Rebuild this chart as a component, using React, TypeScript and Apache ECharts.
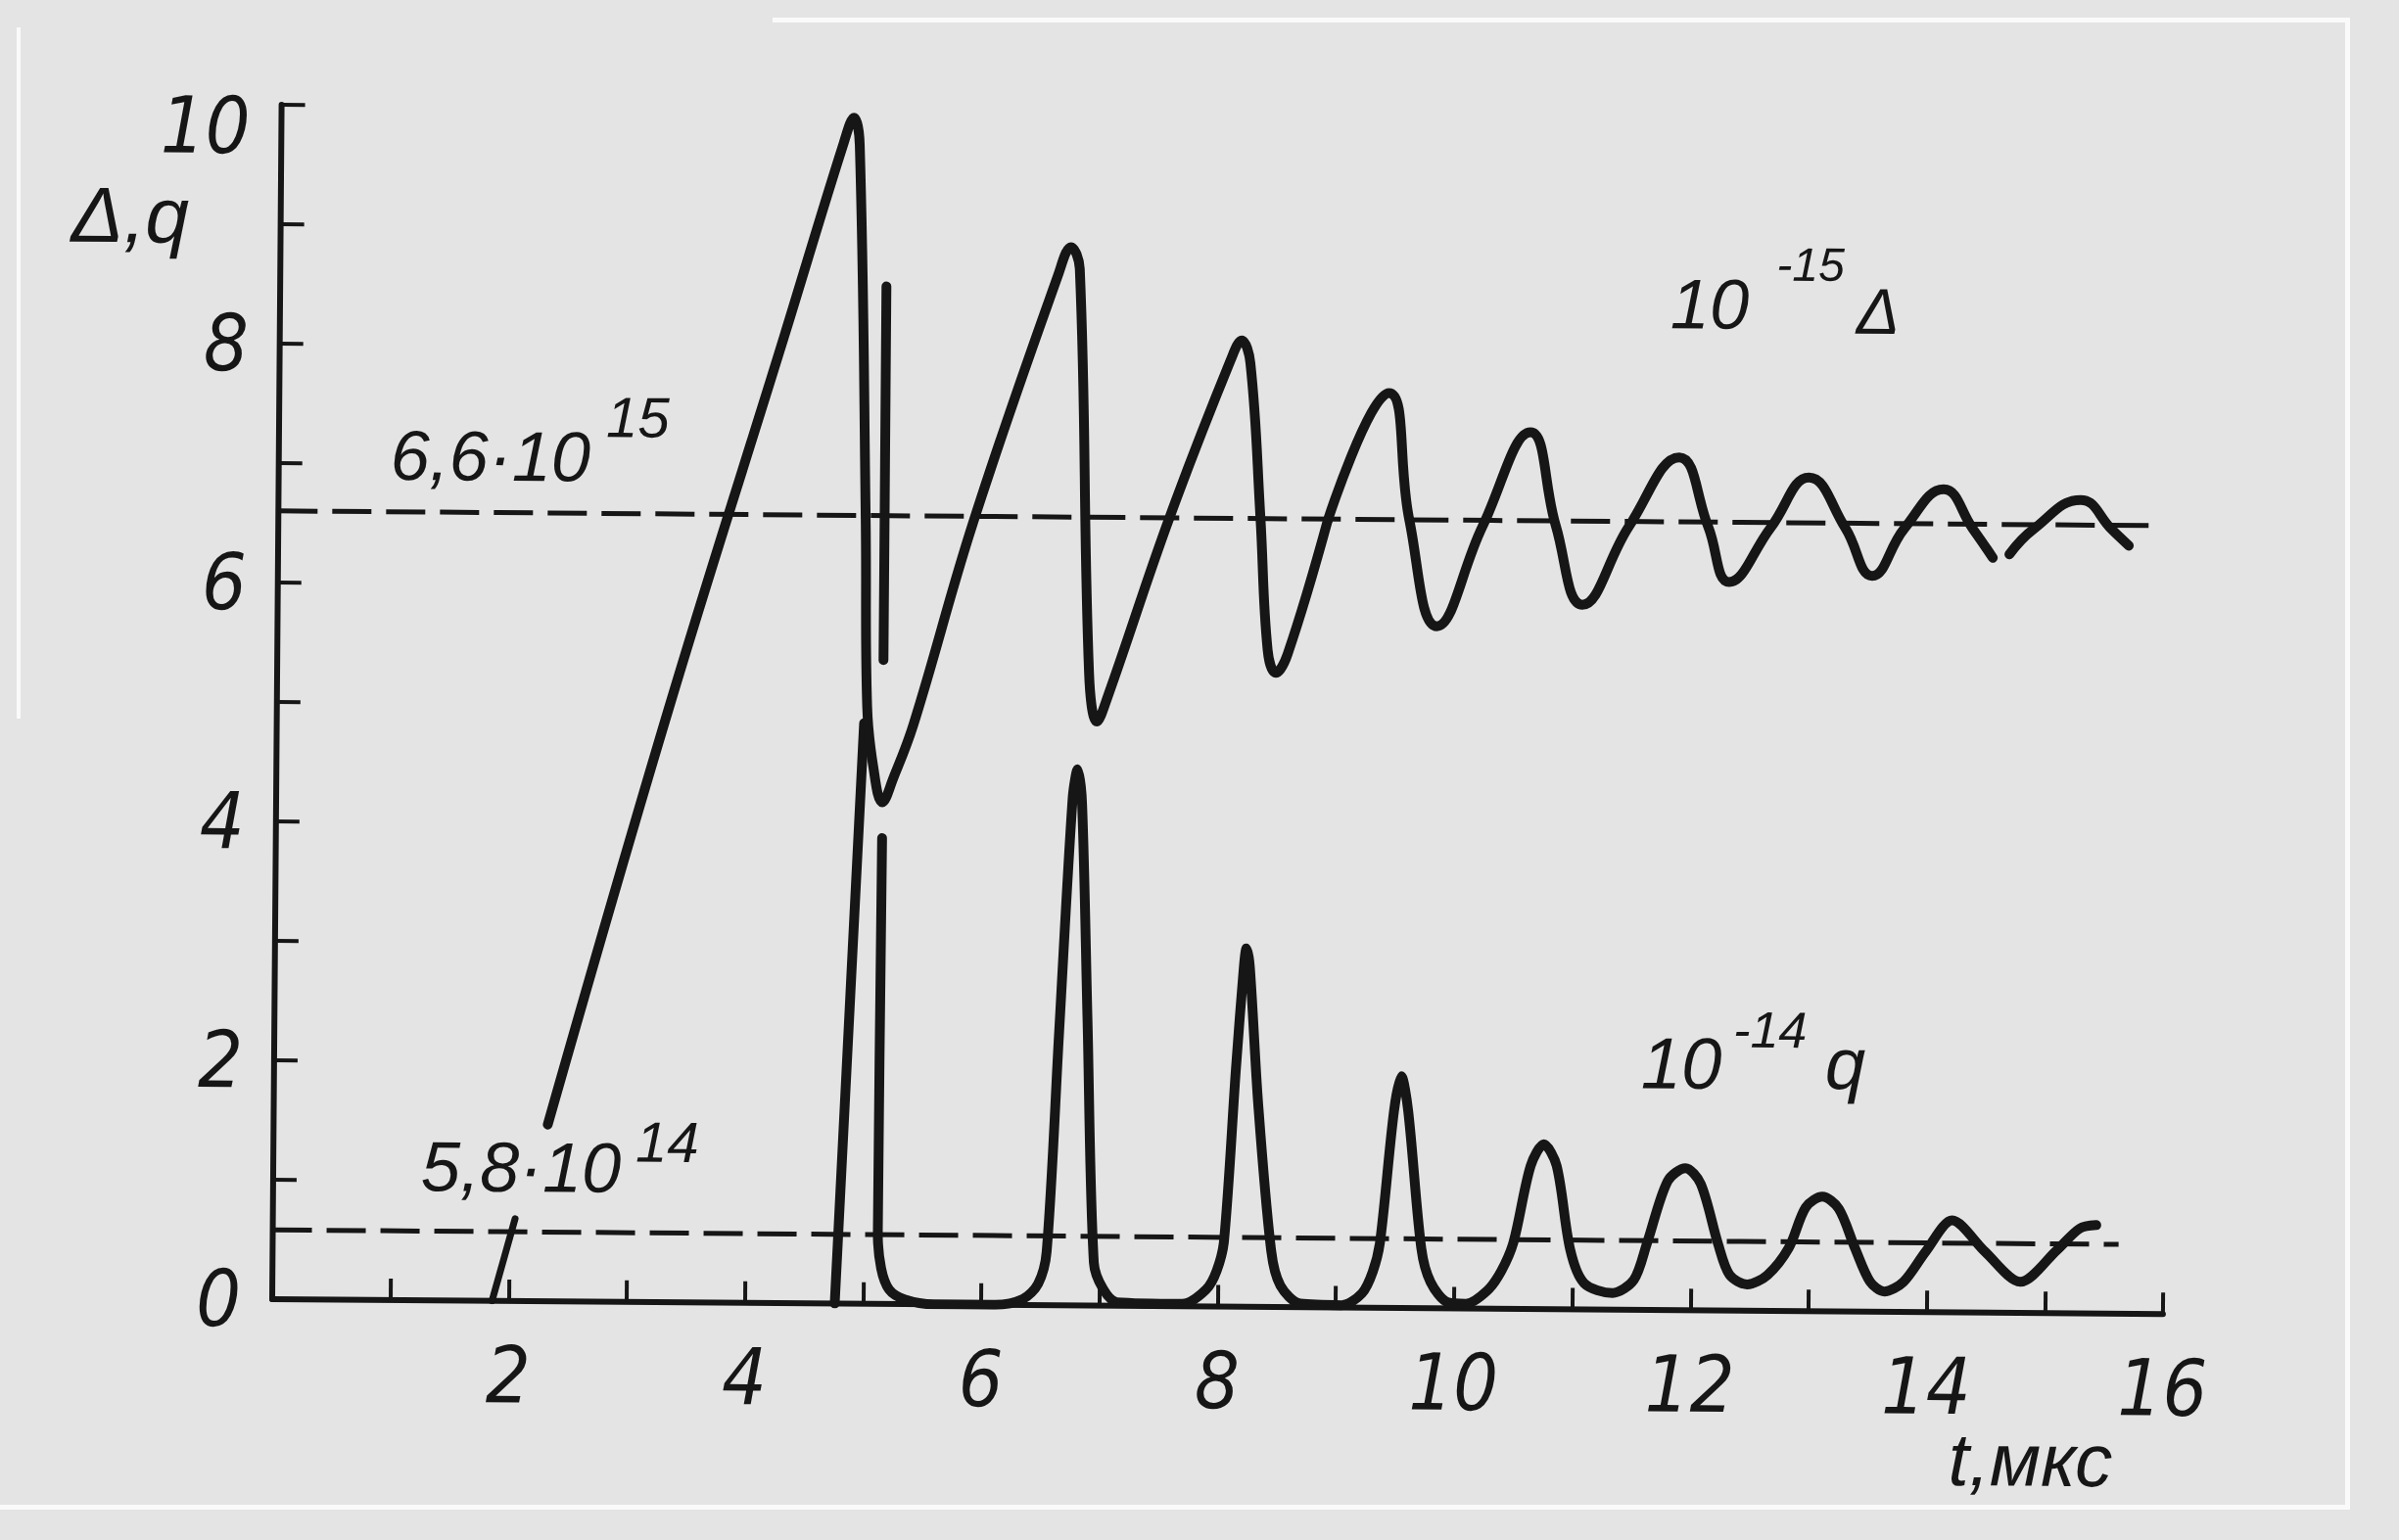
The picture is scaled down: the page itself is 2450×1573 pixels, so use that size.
import React, { useEffect, useRef } from "react";
import * as echarts from "echarts";

// t, мкс  vs  10^-15·Δ (inversion) and 10^-14·q (photon number)

// Δ: linear build-up and the first relaxation spikes
const deltaRamp: [number, number][] = [
  [2.32, 1.48], [3.31, 4.95], [4.27, 8.1], [4.76, 9.72], [4.845, 9.93], [4.895, 9.7],
  [4.97, 6.57], [4.995, 5.0], [5.05, 4.5], [5.13, 4.2], [5.22, 4.4], [5.39, 4.86],
  [5.88, 6.55], [6.58, 8.62], [6.69, 8.86], [6.765, 8.68], [6.87, 5.3], [6.94, 4.89],
  [7.03, 5.1], [7.54, 6.6], [8.05, 7.93], [8.14, 8.09], [8.215, 7.9], [8.31, 6.61],
  [8.38, 5.5], [8.45, 5.31], [8.55, 5.47], [8.88, 6.59],
];

// Δ: damped oscillation about the steady level
const deltaTail: [number, number | null][] = [
  [8.88, 6.59], [9.39, 7.66], [9.57, 6.6], [9.81, 5.71], [10.19, 6.55], [10.59, 7.34],
  [10.81, 6.56], [11.04, 5.9], [11.43, 6.56], [11.85, 7.14], [12.1, 6.56], [12.28, 6.1],
  [12.63, 6.56], [12.95, 6.98], [13.26, 6.56], [13.49, 6.16], [13.76, 6.56], [14.09, 6.89],
  [14.34, 6.56], [14.51, 6.32],
  [14.58, null],
  [14.65, 6.35], [14.85, 6.56], [15.25, 6.81], [15.52, 6.56], [15.66, 6.43],
];

const qCurve: [number, number | null][] = [
  [4.76, 0], [4.97, 4.86],
  [5.05, null],
  [5.13, 8.52], [5.13, 5.39],
  [5.13, null],
  [5.13, 3.9], [5.12, 0.6], [5.15, 0.3], [5.22, 0.12], [5.35, 0.04], [5.6, 0.0],
  [6.1, 0.0], [6.35, 0.05], [6.48, 0.18], [6.55, 0.45], [6.64, 2.27], [6.74, 4.25],
  [6.78, 4.49], [6.82, 4.2], [6.88, 2.4], [6.95, 0.36], [7.03, 0.14], [7.15, 0.03],
  [7.7, 0.02], [7.9, 0.14], [7.99, 0.3], [8.05, 0.55], [8.14, 2.0], [8.2, 2.85],
  [8.22, 3.0], [8.25, 2.85], [8.33, 1.7], [8.45, 0.47], [8.53, 0.18], [8.7, 0.03],
  [9.05, 0.02], [9.22, 0.12], [9.31, 0.3], [9.37, 0.55], [9.48, 1.65], [9.54, 1.94],
  [9.6, 1.65], [9.72, 0.5], [9.8, 0.22], [9.95, 0.05], [10.1, 0.04], [10.28, 0.15],
  [10.4, 0.32], [10.5, 0.56], [10.64, 1.2], [10.75, 1.38], [10.86, 1.2], [10.98, 0.5],
  [11.1, 0.22], [11.34, 0.14], [11.52, 0.25], [11.63, 0.56], [11.8, 1.08], [11.95, 1.19],
  [12.08, 1.06], [12.23, 0.56], [12.33, 0.3], [12.48, 0.22], [12.65, 0.3], [12.83, 0.53],
  [12.97, 0.87], [13.11, 0.96], [13.25, 0.86], [13.39, 0.53], [13.52, 0.25], [13.64, 0.17],
  [13.8, 0.25], [13.99, 0.51], [14.21, 0.77], [14.49, 0.51], [14.79, 0.26], [15.1, 0.53],
  [15.29, 0.71], [15.43, 0.74],
];

// short stroke near t = 2 crossing the lower level line
const leaderLine: [number, number][] = [[1.86, 0], [2.05, 0.69]];

// steady-state levels (dashed)
const deltaLevel = 6.6;
const deltaLevelEnd = 15.85;
const qLevel = 0.58;
const qLevelEnd = 15.62;

const xLabelValues = [2, 4, 6, 8, 10, 12, 14, 16];
const yLabelValues = [0, 2, 4, 6, 8, 10];

const INK = "#161616";
const PAPER = "#e4e4e4";
const TICK_FONT = '"Liberation Sans Narrow", "DejaVu Sans Condensed", "Liberation Sans", sans-serif';
const NOTE_FONT = '"Liberation Sans", "DejaVu Sans", sans-serif';

function note(text: string, x: number, y: number, size: number) {
  return {
    type: "text",
    x,
    y,
    silent: true,
    style: {
      text,
      fill: INK,
      font: `italic ${size}px ${NOTE_FONT}`,
      textAlign: "left",
      textVerticalAlign: "middle",
    },
  };
}

export default function App() {
  const ref = useRef<HTMLDivElement>(null);

  useEffect(() => {
    if (!ref.current) return;
    const chart = echarts.init(ref.current, undefined, { renderer: "svg" });

    const curveStyle = { color: INK, width: 10, cap: "round", join: "round" };
    const dashStyle = { color: INK, width: 5, type: [40, 15] };
    const tickText = {
      color: INK,
      fontSize: 80,
      fontStyle: "italic",
      fontFamily: TICK_FONT,
    };

    chart.setOption({
      animation: false,
      backgroundColor: "transparent",
      grid: { left: 278, top: 107, right: 241, bottom: 246, containLabel: false },
      xAxis: {
        type: "value",
        min: 0,
        max: 16,
        interval: 1,
        axisLine: { show: true, onZero: false, lineStyle: { color: INK, width: 6 } },
        axisTick: { show: true, inside: true, length: 22, lineStyle: { color: INK, width: 4 } },
        splitLine: { show: false },
        axisLabel: {
          margin: 36,
          ...tickText,
          formatter: (v: number) => (xLabelValues.includes(v) ? String(v) : ""),
        },
      },
      yAxis: {
        type: "value",
        min: 0,
        max: 10,
        interval: 1,
        axisLine: { show: true, onZero: false, lineStyle: { color: INK, width: 6 } },
        axisTick: { show: true, inside: true, length: 24, lineStyle: { color: INK, width: 4 } },
        splitLine: { show: false },
        axisLabel: {
          margin: 32,
          ...tickText,
          formatter: (v: number) => {
            if (!yLabelValues.includes(v)) return "";
            return v === 10 ? `{top|${v}}` : String(v);
          },
          rich: {
            top: { ...tickText, padding: [44, 0, 0, 0] },
          },
        },
      },
      series: [
        {
          name: "Δ level",
          type: "line",
          data: [[0, deltaLevel], [deltaLevelEnd, deltaLevel]],
          symbol: "none",
          silent: true,
          lineStyle: dashStyle,
        },
        {
          name: "q level",
          type: "line",
          data: [[0, qLevel], [qLevelEnd, qLevel]],
          symbol: "none",
          silent: true,
          lineStyle: dashStyle,
        },
        {
          name: "leader",
          type: "line",
          data: leaderLine,
          symbol: "none",
          silent: true,
          lineStyle: { color: INK, width: 7, cap: "round" },
        },
        {
          name: "q",
          type: "line",
          data: qCurve,
          smooth: 0.3,
          connectNulls: false,
          symbol: "none",
          silent: true,
          lineStyle: curveStyle,
        },
        {
          name: "Δ ramp",
          type: "line",
          data: deltaRamp,
          smooth: 0.4,
          symbol: "none",
          silent: true,
          lineStyle: curveStyle,
        },
        {
          name: "Δ tail",
          type: "line",
          data: deltaTail,
          smooth: 0.45,
          connectNulls: false,
          symbol: "none",
          silent: true,
          lineStyle: curveStyle,
        },
      ],
      graphic: [
        note("Δ,q", 64, 221, 80),
        note("6,6·10", 392, 464, 72),
        note("15", 612, 423, 58),
        note("5,8·10", 429, 1190, 72),
        note("14", 648, 1163, 58),
        note("10", 1698, 299, 72),
        note("-15", 1806, 258, 48),
        note("Δ", 1888, 305, 66),
        note("10", 1674, 1075, 74),
        note("-14", 1768, 1040, 52),
        note("q", 1862, 1074, 74),
        note("t,мкс", 1991, 1477, 76),
      ],
    });

    return () => chart.dispose();
  }, []);

  return (
    <div
      style={{
        position: "fixed",
        left: 0,
        top: 0,
        width: 2450,
        height: 1573,
        background: PAPER,
        overflow: "hidden",
      }}
    >
      {/* light edges of the sheet */}
      <div style={{ position: "absolute", left: 789, top: 18, width: 1611, height: 5, background: "#fafafa" }} />
      <div style={{ position: "absolute", left: 2395, top: 18, width: 5, height: 1524, background: "#fafafa" }} />
      <div style={{ position: "absolute", left: 0, top: 1537, width: 2400, height: 5, background: "#fafafa" }} />
      <div style={{ position: "absolute", left: 17, top: 28, width: 4, height: 706, background: "#fafafa" }} />
      <div
        ref={ref}
        style={{
          position: "absolute",
          left: 0,
          top: 0,
          width: 2450,
          height: 1573,
          transform: "rotate(0.45deg)",
          transformOrigin: "278px 1327px",
        }}
      />
    </div>
  );
}
